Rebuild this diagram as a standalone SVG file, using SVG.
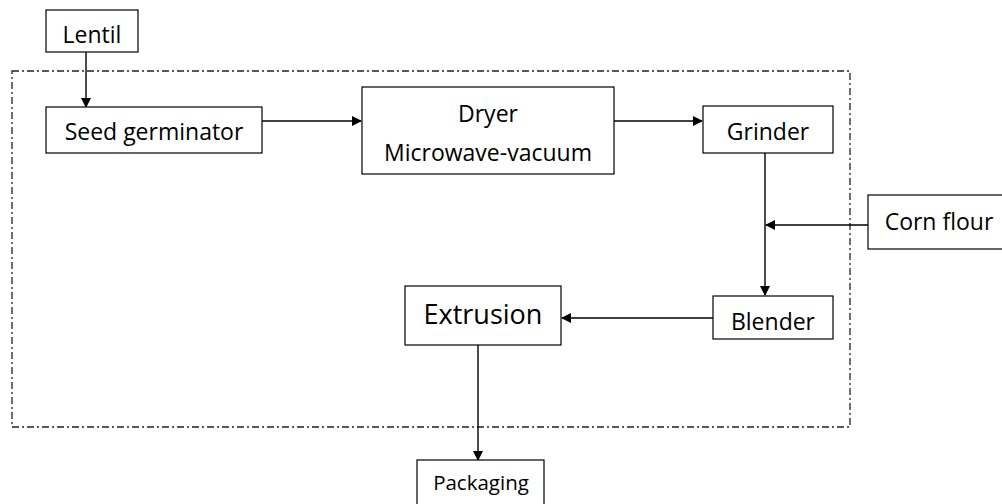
<svg xmlns="http://www.w3.org/2000/svg" width="1002" height="504" viewBox="0 0 1002 504">
<defs>
<style>
.box{fill:#fff;stroke:#000;stroke-width:1.2}
.t{font-family:"Open Sans","Liberation Sans",sans-serif;fill:#000;text-anchor:middle}
.c{stroke:#000;stroke-width:1.4;fill:none;marker-end:url(#ah)}
.frame{fill:none;stroke:#222;stroke-width:1.3;stroke-dasharray:7 3 2 3}
</style>
<marker id="ah" markerWidth="10" markerHeight="10" refX="9" refY="5" orient="auto" markerUnits="userSpaceOnUse">
<path d="M0,0 L10,5 L0,10 z" fill="#000"/>
</marker>
</defs>
<rect class="frame" x="12" y="71" width="838" height="356"/>
<g id="connectors">
<line class="c" x1="86" y1="52" x2="86" y2="107"/>
<line class="c" x1="262" y1="121" x2="361" y2="121"/>
<line class="c" x1="614" y1="121" x2="702" y2="121"/>
<line class="c" x1="765" y1="153" x2="765" y2="295"/>
<line class="c" x1="868" y1="225" x2="766" y2="225"/>
<line class="c" x1="713" y1="318" x2="562" y2="318"/>
<line class="c" x1="478" y1="345" x2="478" y2="460"/>
</g>
<g id="lentil"><rect class="box" x="46" y="10" width="92" height="42"/><text class="t" x="92" y="43" font-size="23">Lentil</text></g>
<g id="seed"><rect class="box" x="46" y="107" width="216" height="46"/><text class="t" x="154" y="140" font-size="23">Seed germinator</text></g>
<g id="dryer"><rect class="box" x="362" y="87" width="252" height="87"/><text class="t" x="488" y="122" font-size="23">Dryer</text><text class="t" x="488" y="161" font-size="23">Microwave-vacuum</text></g>
<g id="grinder"><rect class="box" x="703" y="106" width="130" height="47"/><text class="t" x="768" y="140" font-size="23">Grinder</text></g>
<g id="corn"><rect class="box" x="868" y="195" width="140" height="54"/><text class="t" x="939" y="230" font-size="23">Corn flour</text></g>
<g id="blender"><rect class="box" x="713" y="296" width="120" height="43"/><text class="t" x="773" y="330" font-size="23">Blender</text></g>
<g id="extrusion"><rect class="box" x="405" y="286" width="156" height="59"/><text class="t" x="483" y="324" font-size="27">Extrusion</text></g>
<g id="packaging"><rect class="box" x="417" y="460" width="127" height="50"/><text class="t" x="481" y="490" font-size="20.5">Packaging</text></g>
</svg>
